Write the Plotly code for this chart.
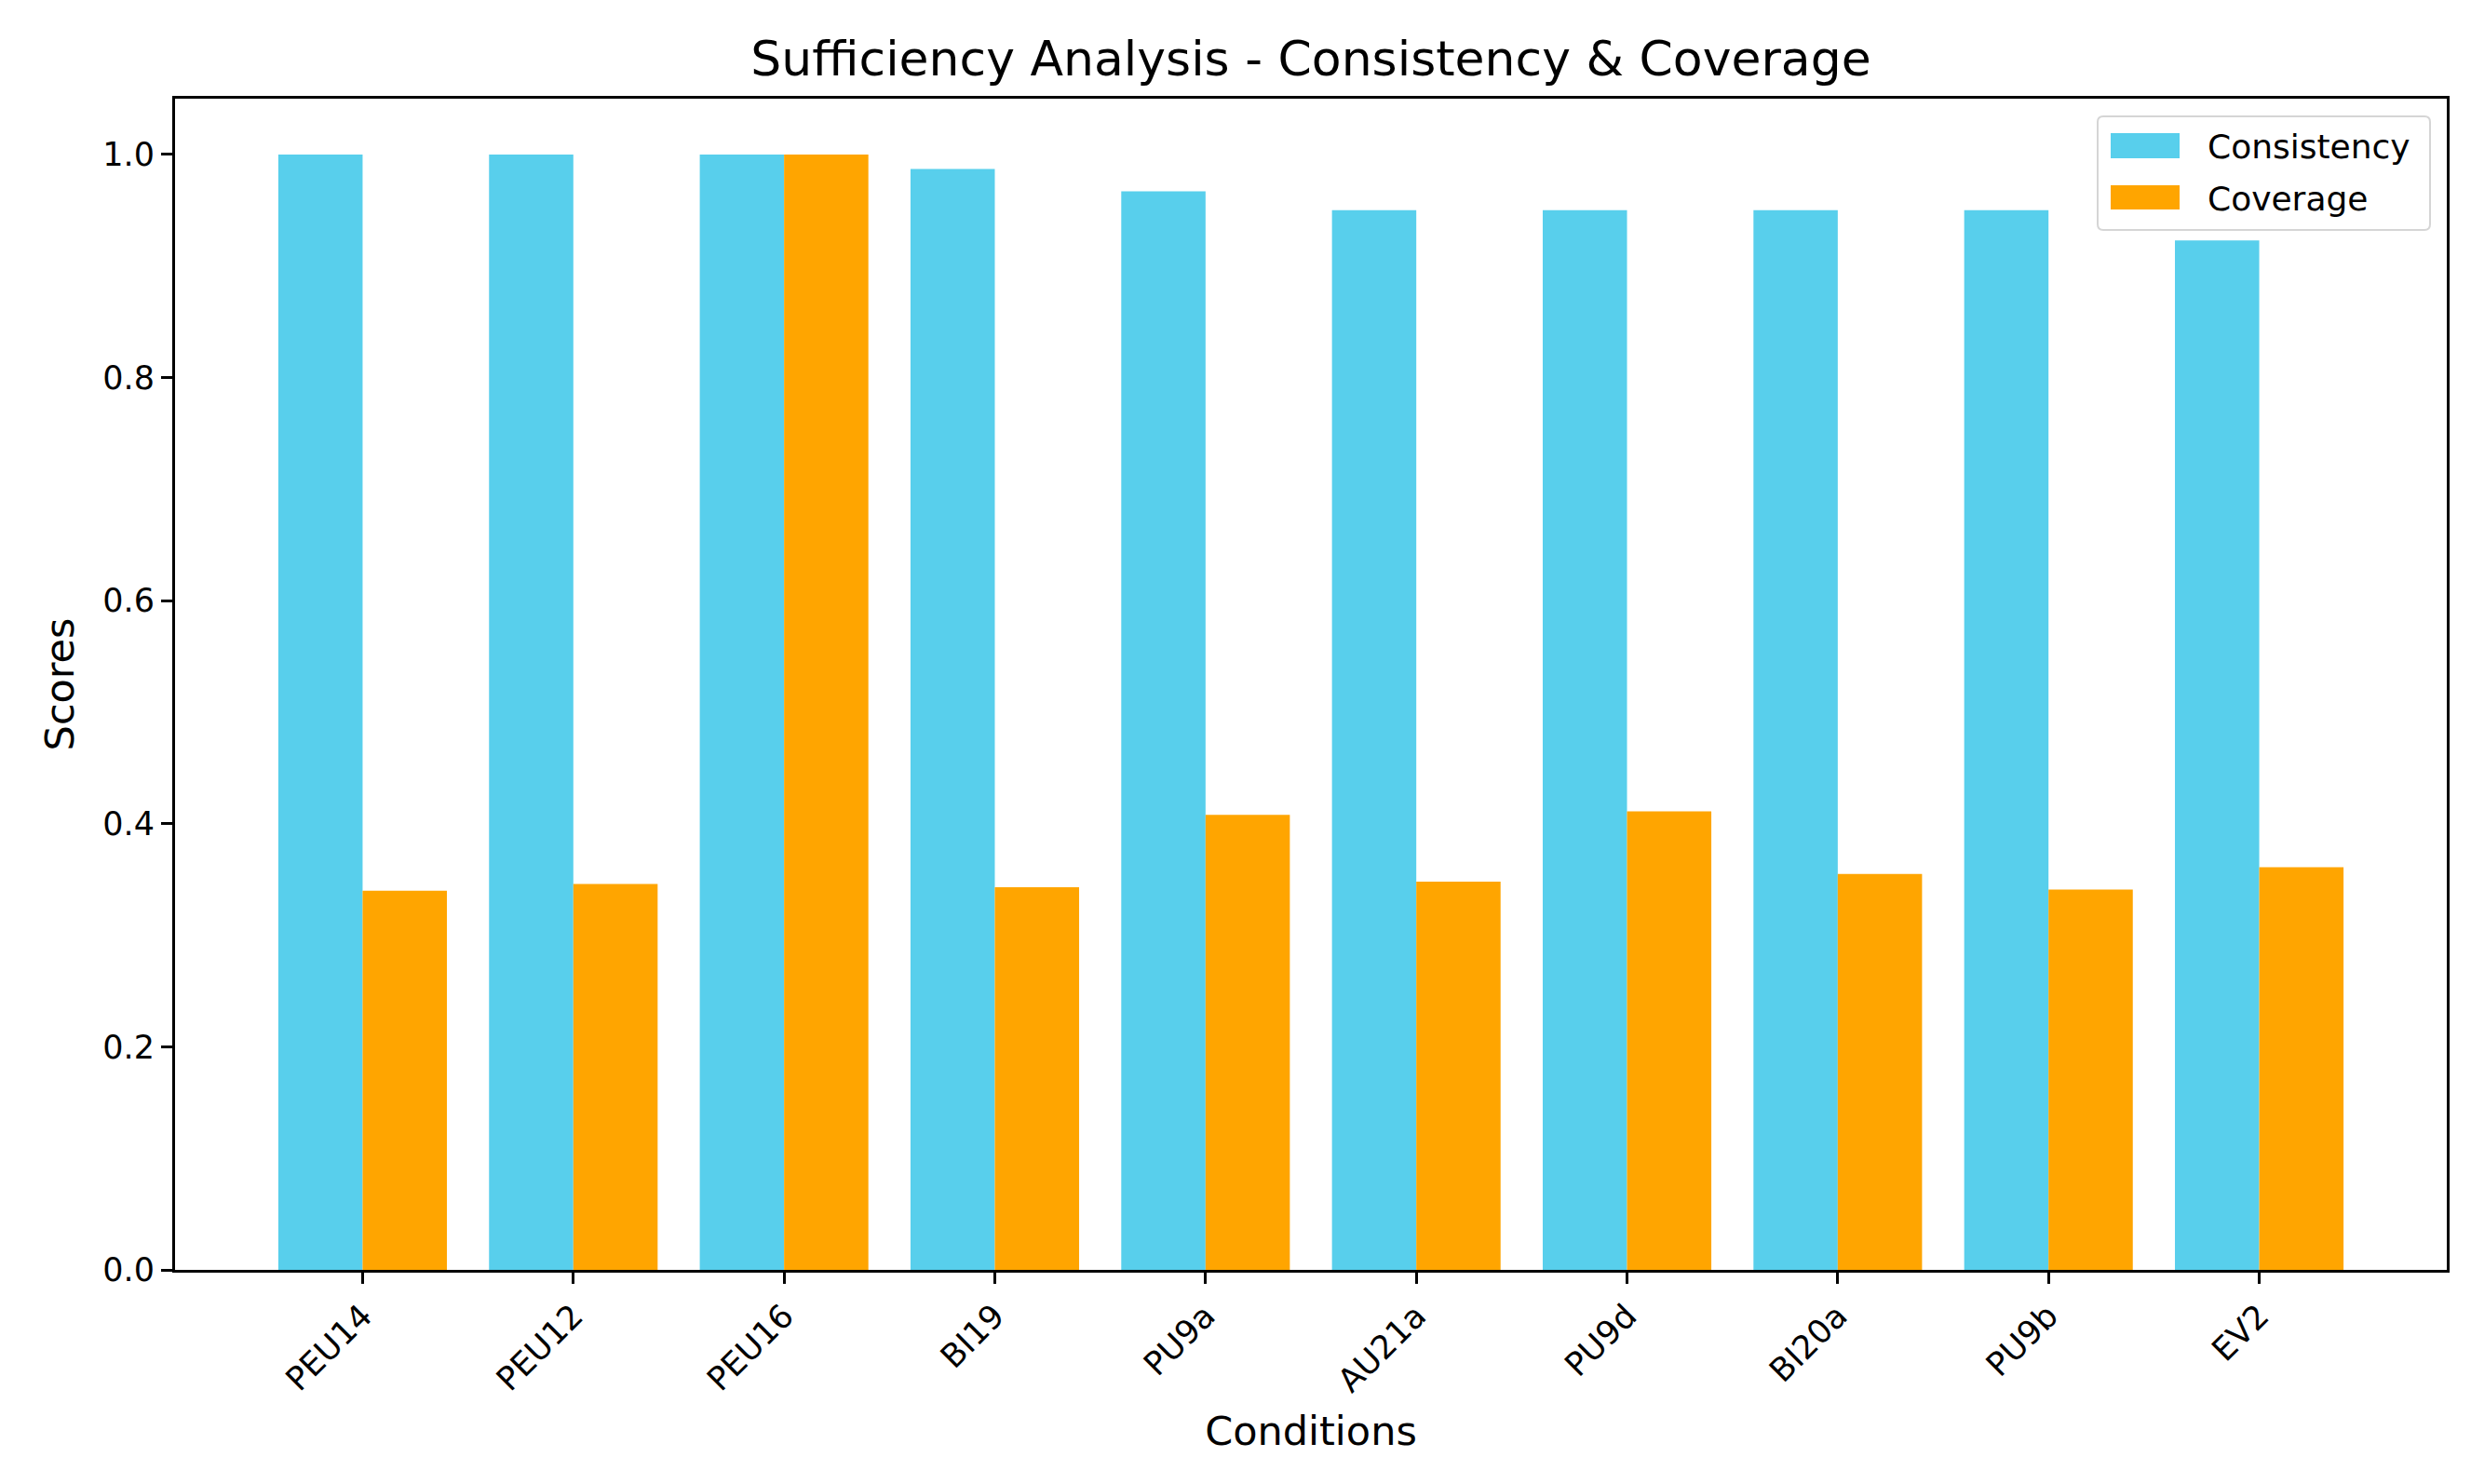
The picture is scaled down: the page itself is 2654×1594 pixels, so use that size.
import plotly.graph_objects as go

conditions = ["PEU14", "PEU12", "PEU16", "BI19", "PU9a", "AU21a", "PU9d", "BI20a", "PU9b", "EV2"]
consistency = [1.0, 1.0, 1.0, 0.987, 0.967, 0.950, 0.950, 0.950, 0.950, 0.923]
coverage = [0.340, 0.346, 1.0, 0.343, 0.408, 0.348, 0.411, 0.355, 0.341, 0.361]
series_names = ["Consistency", "Coverage"]
series_colors = ["#58CFEC", "#FFA500"]

W, H = 2654, 1594
L, R, T, B = 180, 34, 98, 238
PW, PH = W - L - R, H - T - B
FONT = "DejaVu Sans"


def px(xp):
    return (xp - L) / PW


def py(yp):
    return (H - B - yp) / PH


fig = go.Figure()
for name, vals, col in zip(series_names, [consistency, coverage], series_colors):
    fig.add_trace(go.Bar(x=list(range(len(conditions))), y=vals, name=name,
                         marker=dict(color=col, line=dict(width=0)),
                         showlegend=False))

# legend drawn as a matplotlib-style box
bx0, bx1, by0, by1, rad = 2245, 2602, 117, 239, 6
path = (f"M {px(bx0 + rad)} {py(by0)} L {px(bx1 - rad)} {py(by0)} "
        f"Q {px(bx1)} {py(by0)} {px(bx1)} {py(by0 + rad)} "
        f"L {px(bx1)} {py(by1 - rad)} Q {px(bx1)} {py(by1)} {px(bx1 - rad)} {py(by1)} "
        f"L {px(bx0 + rad)} {py(by1)} Q {px(bx0)} {py(by1)} {px(bx0)} {py(by1 - rad)} "
        f"L {px(bx0)} {py(by0 + rad)} Q {px(bx0)} {py(by0)} {px(bx0 + rad)} {py(by0)} Z")
shapes = [dict(type="path", xref="paper", yref="paper", path=path,
               fillcolor="rgba(255,255,255,0.8)", line=dict(color="#D5D5D5", width=2),
               layer="above")]
annotations = []
rows = [(135, 162), (191, 217)]
for (y0, y1), name, col in zip(rows, series_names, series_colors):
    shapes.append(dict(type="rect", xref="paper", yref="paper",
                       x0=px(2259), x1=px(2333), y0=py(y1), y1=py(y0),
                       fillcolor=col, line=dict(width=0), layer="above"))
    annotations.append(dict(text=name, xref="paper", yref="paper",
                            x=px(2361), y=py((y0 + y1) / 2 + 1), xanchor="left", yanchor="middle",
                            showarrow=False, font=dict(size=36, family=FONT, color="black")))

fig.update_layout(
    width=W, height=H,
    margin=dict(l=L, r=R, t=T, b=B, autoexpand=False),
    paper_bgcolor="white", plot_bgcolor="white",
    barmode="group", bargap=0.2, bargroupgap=0.0,
    font=dict(family=FONT, color="black", size=35),
    title=dict(text="Sufficiency Analysis - Consistency & Coverage",
               x=(L + PW / 2) / W, xanchor="center",
               y=1 - 55 / H, yanchor="middle", yref="container",
               font=dict(size=52, family=FONT, color="black")),
    showlegend=False,
    shapes=shapes,
    annotations=annotations,
)

fig.update_xaxes(
    range=[-0.89, 9.89],
    tickmode="array", tickvals=list(range(len(conditions))), ticktext=conditions,
    tickangle=-45, ticks="outside", ticklen=12, tickwidth=3, tickcolor="black",
    showline=True, linecolor="black", linewidth=3, mirror=True,
    showgrid=False, zeroline=False,
    tickfont=dict(size=35, family=FONT, color="black"),
    title=dict(text="Conditions", font=dict(size=43, family=FONT, color="black"), standoff=20),
)
fig.update_yaxes(
    range=[0, 1.05],
    tickmode="array", tickvals=[0, 0.2, 0.4, 0.6, 0.8, 1.0],
    tickformat=".1f",
    ticks="outside", ticklen=12, tickwidth=3, tickcolor="black",
    showline=True, linecolor="black", linewidth=3, mirror=True,
    showgrid=False, zeroline=False,
    tickfont=dict(size=35, family=FONT, color="black"),
    title=dict(text="Scores", font=dict(size=43, family=FONT, color="black"), standoff=18),
)

fig.write_html("out.html")
